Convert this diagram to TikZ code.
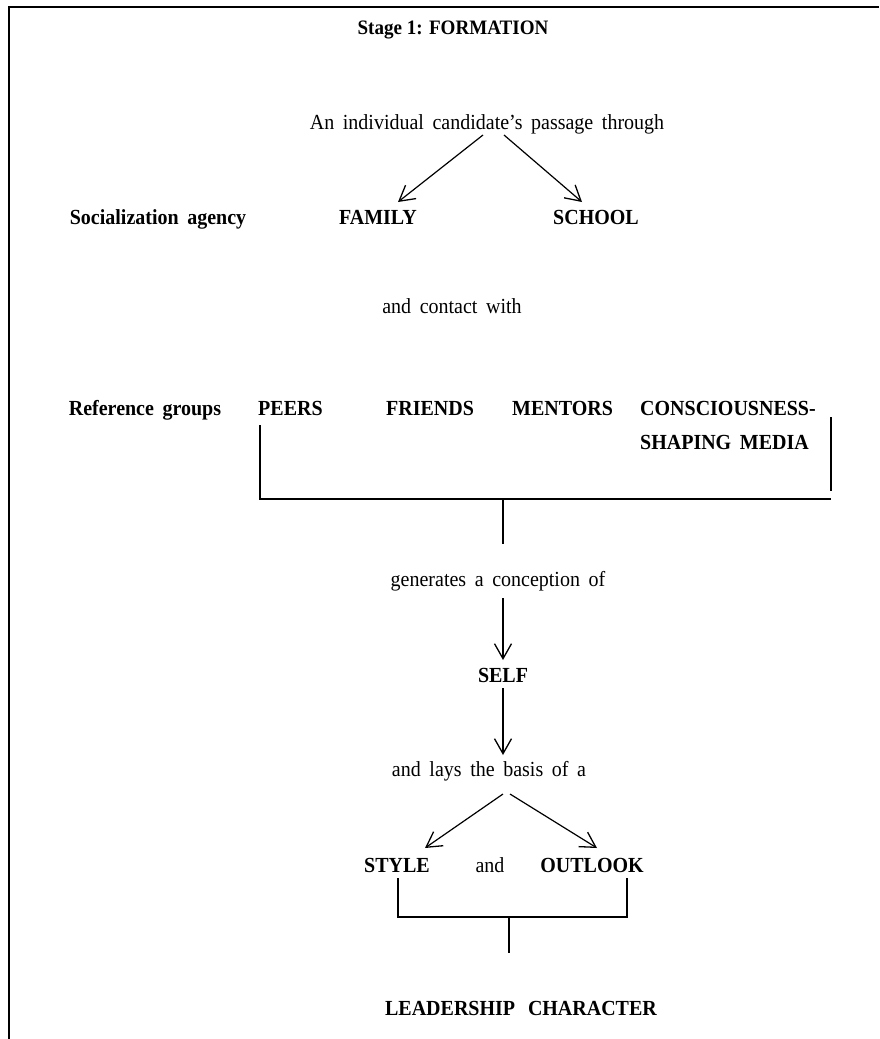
\documentclass[tikz,border=0pt]{standalone}
\usepackage{fontspec}
\setmainfont{Liberation Serif}[FakeStretch=0.93]
\usetikzlibrary{arrows.meta}
\newcommand\widerwords{\spaceskip=0.40em\relax}
\begin{document}
\begin{tikzpicture}[x=1pt,y=-1pt,
  txt/.style={inner sep=0pt, anchor=base,
    font=\fontsize{21.5}{26}\selectfont, execute at begin node=\widerwords},
  btxt/.style={txt, font=\fontsize{21.5}{26}\selectfont\bfseries},
  link/.style={line width=1.2pt},
  arr/.style={link, -{Straight Barb[length=15pt,width=17pt,line width=1.3pt]}},
  frame/.style={line width=2pt}]
\useasboundingbox (0,0) rectangle (879,1039);

% frame (top and left edges only)
\coordinate (fTL) at (9,7);
\coordinate (fTR) at (879,7);
\coordinate (fBL) at (9,1039);
\draw[frame] (fBL) -- (fTL) -- (fTR);

% heading
\node[inner sep=0pt, anchor=base, font=\fontsize{20.5}{25}\selectfont\bfseries]
  (title) at (453,34) {Stage 1: FORMATION};

% socialization agencies
\node[txt] (passage) at (487,129) {An individual candidate’s passage through};
\node[btxt] (agency) at (158,224) {Socialization agency};
\node[btxt] (family) at (378,224) {FAMILY};
\node[btxt] (school) at (596,224) {SCHOOL};
\coordinate (pL) at (483,135);
\coordinate (pR) at (504,135);
\coordinate (famT) at (398,202);
\coordinate (schT) at (582,202);
\draw[arr] (pL) -- (famT);
\draw[arr] (pR) -- (schT);

\node[txt] (contact) at (452,313) {and contact with};

% reference groups
\node[btxt] (refgroups) at (145,415) {Reference groups};
\node[btxt, anchor=base west] (peers) at (258,415) {PEERS};
\node[btxt, anchor=base west] (friends) at (386,415) {FRIENDS};
\node[btxt, anchor=base west] (mentors) at (512,415) {MENTORS};
\node[btxt, anchor=base west] (media1) at (640,415) {CONSCIOUSNESS-};
\node[btxt, anchor=base west] (media2) at (640,449) {SHAPING MEDIA};

% bracket joining the reference groups
\coordinate (brL) at (260,425);
\coordinate (brR) at (831,499);
\coordinate (brRtop) at (831,417);
\coordinate (brRbot) at (831,491);
\coordinate (brMid) at (503,499);
\coordinate (brStem) at (503,544);
\draw[link] (brL) |- (brR);
\draw[link] (brRtop) -- (brRbot);
\draw[link] (brMid) -- (brStem);

% conception of self
\node[txt] (generates) at (498,586) {generates a conception of};
\node[btxt] (self) at (503,682) {SELF};
\coordinate (g1) at (503,598);
\coordinate (g2) at (503,660);
\coordinate (s1) at (503,688);
\coordinate (s2) at (503,755);
\draw[arr] (g1) -- (g2);
\draw[arr] (s1) -- (s2);

\node[txt] (basis) at (489,776) {and lays the basis of a};
\coordinate (bL) at (503,794);
\coordinate (bR) at (510,794);
\coordinate (styT) at (425,848);
\coordinate (outT) at (597,848);
\draw[arr] (bL) -- (styT);
\draw[arr] (bR) -- (outT);

\node[btxt] (style) at (397,872) {STYLE};
\node[txt] (and) at (490,872) {and};
\node[btxt] (outlook) at (592,872) {OUTLOOK};

% bracket joining style and outlook
\coordinate (sB) at (398,878);
\coordinate (oB) at (627,878);
\coordinate (jMid) at (509,917);
\coordinate (jStem) at (509,953);
\draw[link] (sB) |- (jMid) -| (oB);
\draw[link] (jMid) -- (jStem);

\node[btxt, execute at begin node={\spaceskip=0.6em\relax}] (leader) at (521,1015) {LEADERSHIP CHARACTER};
\end{tikzpicture}
\end{document}
